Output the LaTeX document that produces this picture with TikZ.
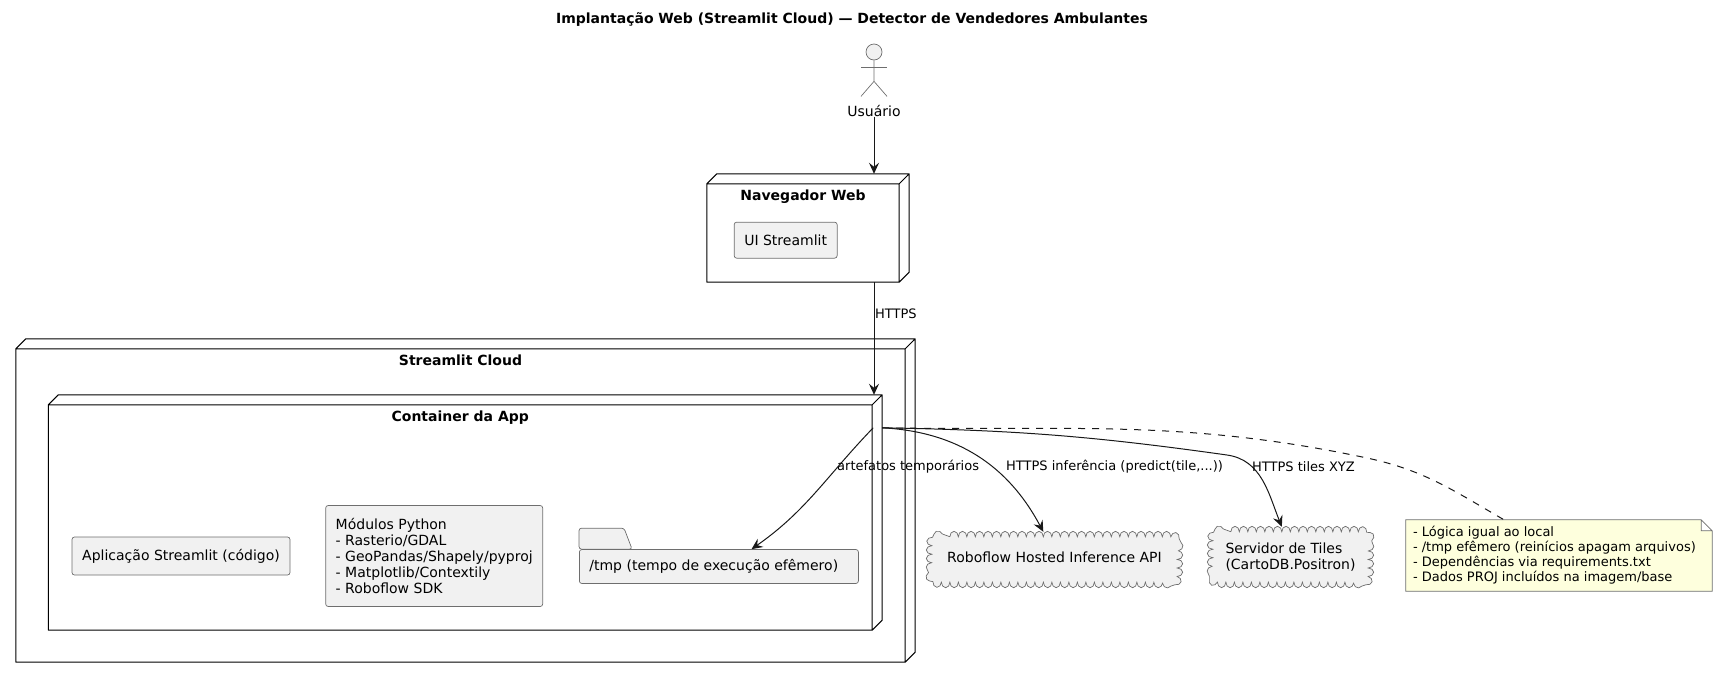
\documentclass[tikz,border=0pt]{standalone}
\usepackage{fontspec}
\setmainfont{DejaVu Sans}
\usetikzlibrary{arrows.meta,positioning,calc,decorations.pathmorphing}
\definecolor{boxfill}{HTML}{F1F1F1}
\definecolor{boxline}{HTML}{181818}
\definecolor{shapeline}{HTML}{6E6E6E}
\definecolor{notefill}{HTML}{FEFFDD}

\begin{document}
\begin{tikzpicture}[
  x=1pt, y=-1pt,
  every node/.style={font=\fontsize{14}{16.2}\selectfont, text=black},
  threed/.style={rectangle, inner sep=0pt, append after command={\pgfextra{
    \draw[line width=1pt, line join=round, black]
      (\tikzlastnode.south west) -- ($(\tikzlastnode.north west)+(0,10)$)
      -- ($(\tikzlastnode.north west)+(10,0)$) -- (\tikzlastnode.north east)
      -- ($(\tikzlastnode.south east)+(0,-10)$) -- ($(\tikzlastnode.south east)+(-10,0)$)
      -- cycle
      ($(\tikzlastnode.north west)+(0,10)$) -- ($(\tikzlastnode.north east)+(-10,10)$)
      -- ($(\tikzlastnode.south east)+(-10,0)$)
      ($(\tikzlastnode.north east)+(-10,10)$) -- (\tikzlastnode.north east);
  }}},
  threedtitle/.style={font=\fontsize{14}{16.2}\selectfont\bfseries, inner sep=0pt},
  box/.style={rectangle, draw=shapeline, fill=boxfill, line width=0.7pt, rounded corners=2.5pt, inner xsep=10pt, inner ysep=0pt, align=flush left},
  folderbox/.style={box, text width=259pt, minimum height=34pt, append after command={\pgfextra{
    \draw[shapeline, fill=boxfill, line width=0.7pt, rounded corners=2.5pt]
      (\tikzlastnode.north west) -- ++(0,-21) -- ++(45,0) -- ++(8,21) -- cycle;
  }}},
  cloudbox/.style={rectangle, inner sep=0pt, align=flush left, append after command={\pgfextra{
    \coordinate (cnw) at ($(\tikzlastnode.north west)+(5,5)$);
    \coordinate (cne) at ($(\tikzlastnode.north east)+(-5,5)$);
    \coordinate (cse) at ($(\tikzlastnode.south east)+(-5,-5)$);
    \coordinate (csw) at ($(\tikzlastnode.south west)+(5,-5)$);
    \draw[shapeline, fill=boxfill, line width=0.7pt, decorate, decoration={bumps, segment length=17pt, amplitude=5.5pt}]
      ($(cnw)+(18,0)$) -- ($(cne)+(-18,0)$) .. controls (cne) .. ($(cne)+(0,18)$)
      -- ($(cse)+(0,-18)$) .. controls (cse) .. ($(cse)+(-18,0)$)
      -- ($(csw)+(18,0)$) .. controls (csw) .. ($(csw)+(0,-18)$)
      -- ($(cnw)+(0,18)$) .. controls (cnw) .. ($(cnw)+(18,0)$);
  }}},
  notebox/.style={rectangle, inner xsep=7pt, inner ysep=0pt, text width=292pt, minimum height=71pt, align=flush left, font=\fontsize{13}{15}\selectfont, append after command={\pgfextra{
    \draw[shapeline, fill=notefill, line width=0.7pt]
      (\tikzlastnode.south west) -- (\tikzlastnode.north west) -- ($(\tikzlastnode.north east)+(-11,0)$)
      -- ($(\tikzlastnode.north east)+(0,11)$) -- (\tikzlastnode.south east) -- cycle
      ($(\tikzlastnode.north east)+(-11,0)$) -- ($(\tikzlastnode.north east)+(-11,11)$) -- ($(\tikzlastnode.north east)+(0,11)$);
  }}},
  actorline/.style={shapeline, line width=0.7pt},
  arrow/.style={-{Stealth[length=11pt,width=10pt,inset=4pt]}, line width=1pt, boxline},
  edgelabel/.style={font=\fontsize{13}{15}\selectfont, inner sep=0pt, anchor=west}
]
  \useasboundingbox (0,0) rectangle (1717,678);
  \node[font=\fontsize{14}{16.2}\selectfont\bfseries, inner sep=0pt] (title) at (852,19.5) {Implantação Web (Streamlit Cloud) — Detector de Vendedores Ambulantes};

  \node[circle, draw=shapeline, fill=boxfill, line width=0.7pt, minimum size=16pt, inner sep=0pt] (userhead) at (874,52) {};
  \coordinate[below=5pt of userhead.south] (userhip0);
  \coordinate[below=21pt of userhead.south] (userhip);
  \draw[actorline] (userhead.south) -- (userhip) -- ++(-13,15) (userhip) -- ++(13,15);
  \draw[actorline] ($(userhip0)+(-13,2)$) -- ($(userhip0)+(13,2)$);
  \node[inner sep=0pt, below=9pt of userhead.south, yshift=-35.5pt] (user) {Usuário};

  \node[threed, minimum width=202pt, minimum height=108pt] (browser) at (808,228) {};
  \node[threedtitle, below=16pt of browser.north, xshift=-5pt] (browsertitle) {Navegador Web};
  \node[box, minimum width=103pt, minimum height=36pt, anchor=north west] (ui) at ($(browser.north west)+(27,48)$) {UI Streamlit};

  \node[threed, minimum width=899pt, minimum height=323pt] (cloud) at (465.5,500.5) {};
  \node[threedtitle, below=16pt of cloud.north, xshift=-5pt] (cloudtitle) {Streamlit Cloud};
  \node[threed, minimum width=833.5pt, minimum height=235pt] (container) at (465.25,512.5) {};
  \node[threedtitle, below=16pt of container.north, xshift=-5pt] (containertitle) {Container da App};

  \node[box, minimum width=218pt, minimum height=38pt] (app) at (181,556) {Aplicação Streamlit (código)};
  \node[box, right=35pt of app, minimum height=101pt, minimum width=217pt] (modules) {Módulos Python\\- Rasterio/GDAL\\- GeoPandas/Shapely/pyproj\\- Matplotlib/Contextily\\- Roboflow SDK};
  \node[folderbox, right=36pt of modules, yshift=-10.5pt] (tmp) {/tmp (tempo de execução efêmero)};

  \node[cloudbox, minimum width=255pt, minimum height=55pt, align=center, text depth=5pt] (roboflow) at (1054.5,559.5) {Roboflow Hosted Inference API};
  \node[cloudbox, minimum width=165pt, minimum height=60pt] (tiles) at (1290.5,557) {Servidor de Tiles\\(CartoDB.Positron)};
  \node[notebox] (note) at (1559,555.5) {- Lógica igual ao local\\- /tmp efêmero (reinícios apagam arquivos)\\- Dependências via requirements.txt\\- Dados PROJ incluídos na imagem/base};

  \coordinate (containerfront) at ($(container.north east)+(-9,33)$);
  \coordinate (containerback) at ($(container.north east)+(0,33)$);
  \coordinate (tilesbend) at (1227,455);
  \coordinate (notebend) at (1367,458);

  \draw[arrow] (user.south) -- (user.south |- browser.north);
  \draw[arrow] (user.south |- browser.south) -- (user.south |- container.north);
  \draw[arrow] (containerfront) to[out=226,in=35] (tmp.28);
  \draw[arrow] (containerback) to[out=-3,in=118] (roboflow.112);
  \draw[arrow] (containerback) to[out=-1,in=172] (tilesbend) to[out=-8,in=112] (tiles.106);
  \draw[boxline, line width=1pt, dash pattern=on 7pt off 7pt] (containerback) to[out=-1,in=168] (notebend) to[out=-12,in=150] (note.147.6);

  \node[edgelabel] (httpslabel) at (875,314) {HTTPS};
  \node[edgelabel] (tmplabel) at (837,467) {artefatos temporários};
  \node[edgelabel] (inferencelabel) at (1006,467) {HTTPS inferência (predict(tile,...))};
  \node[edgelabel] (tileslabel) at (1252,467) {HTTPS tiles XYZ};
\end{tikzpicture}
\end{document}
